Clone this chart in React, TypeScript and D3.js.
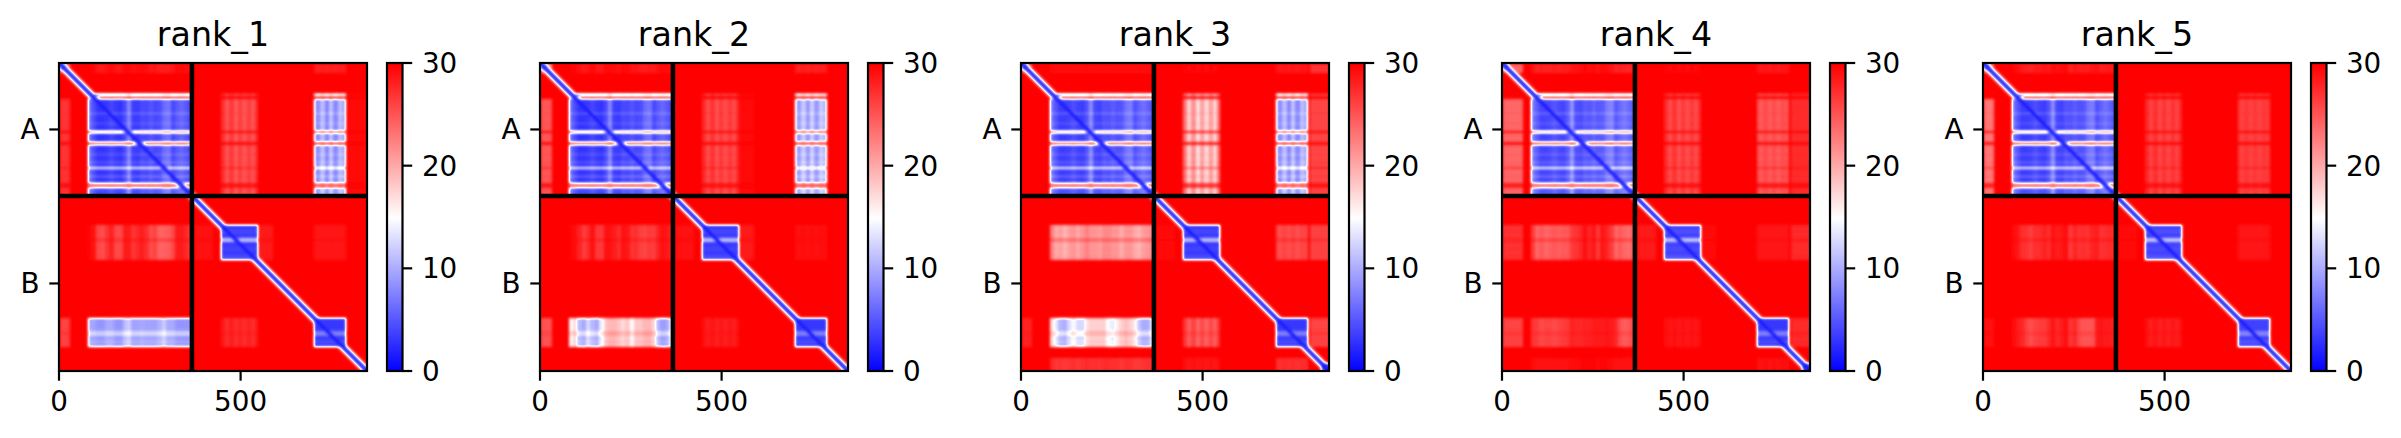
import React, { useMemo } from "react";
import * as d3 from "d3";

const RANKS = ["rank_1", "rank_2", "rank_3", "rank_4", "rank_5"];
const TOTAL = 848;
const CHAIN_NAMES = ["A", "B"];
const CHAIN_LENGTHS = [366, 482];
const X_TICKS = [0, 500];
const CBAR_TICKS = [0, 10, 20, 30];

// residue ranges of row and column groups
const ROW_GROUPS = [[2, 28], [82, 366], [446, 542], [703, 782], [813, 848]];
const COL_GROUPS = [[2, 30], [79, 366], [375, 425], [445, 549], [549, 590], [702, 790], [795, 848]];
const A0_COL_END = [30, 32, 30, 58, 30];

// PAE level per rank, rows a0,a1,b1,b2,tail, columns a0,a1,l1,b1,l2,b2,tail
const LEVELS_RANK1 = [[22, 27.5, 30, 30, 30, 28, 30], [27, 2.5, 30, 24.5, 30, 7, 29.5], [30, 22, 29, 2.5, 28.5, 28.5, 30], [26, 7, 30, 27, 30, 2.5, 30], [30, 30, 30, 30, 30, 30, 30]];
const LEVELS_RANK2 = [[20, 27, 30, 30, 30, 28, 30], [25, 2.5, 30, 25, 29.5, 8, 30], [30, 23, 29, 2.5, 28.5, 29, 30], [25, 8, 30, 28, 30, 2.5, 30], [30, 30, 30, 30, 30, 30, 30]];
const LEVELS_RANK3 = [[24, 29, 30, 29.5, 30, 28.5, 27], [30, 3, 30, 16, 30, 7, 26], [30, 17, 29.5, 2.5, 30, 25, 26], [28, 9, 30, 23.5, 30, 2.5, 26], [30, 26, 30, 28.5, 30, 27, 30]];
const LEVELS_RANK4 = [[24, 27, 30, 29.5, 30, 28.5, 30], [24, 3.5, 30, 25, 30, 24.5, 27.5], [27, 21, 28.5, 3, 29.5, 28.5, 27.5], [26, 22, 30, 28.5, 30, 2.5, 27.5], [30, 28.5, 30, 30, 30, 29, 30]];
const LEVELS_RANK5 = [[22, 26, 30, 30, 30, 30, 30], [23, 3, 30, 25.5, 30, 26, 30], [30, 23, 29.5, 3, 30, 28.5, 30], [29, 22, 30, 28, 30, 3, 30], [30, 30, 30, 30, 30, 30, 30]];
const LEVELS = [LEVELS_RANK1, LEVELS_RANK2, LEVELS_RANK3, LEVELS_RANK4, LEVELS_RANK5];

// row strips inside chain A: start, end, how far toward red
const A_ROW_STRIPS = [
  [82, 85, 0.75], [90, 99, 0.92], [137, 141, 0.16], [165, 168, 0.1], [187, 194, 0.9],
  [218, 226, 0.85], [250, 252, 0.12], [272, 275, 0.15], [285, 293, 0.45], [302, 304, 0.1],
  [310, 314, 0.2], [331, 343, 0.72], [352, 354, 0.14],
];
// 12-residue bins, columns 79..366
const A1_RIPPLE = [0.14, 0.07, 0.02, 0.02, 0.03, 0.06, 0.03, 0.02, 0.07, 0.2, 0.04, 0.03, 0.07, 0.06, 0.09, 0.06, 0.07, 0.14, 0.16, 0.06, 0.1, 0.13, 0.1, 0.06];
const B1_ROW_A1_RANK1 = [0.95, 0.85, 0.45, 0.4, 0.6, 0.75, 0.45, 0.45, 0.8, 0.8, 0.6, 0.7, 0.8, 0.65, 0.4, 0.5, 0.25, 0.25, 0.3, 0.45, 0.8, 0.8, 0.7, 0.6];
const B1_ROW_A1_RANK2 = [0.95, 0.9, 0.7, 0.45, 0.6, 0.85, 0.5, 0.5, 0.85, 0.85, 0.75, 0.6, 0.85, 0.8, 0.55, 0.6, 0.45, 0.4, 0.5, 0.45, 0.7, 0.85, 0.8, 0.7];
const B1_ROW_A1_RANK3 = [0.4, 0.2, 0.25, 0.15, 0.25, 0.3, 0.2, 0.3, 0.4, 0.3, 0.3, 0.25, 0.35, 0.35, 0.3, 0.3, 0.2, 0.3, 0.3, 0.2, 0.15, 0.25, 0.3, 0.35];
const B1_ROW_A1_RANK4 = [0.6, 0.3, 0.4, 0.3, 0.35, 0.4, 0.35, 0.4, 0.4, 0.6, 0.65, 0.75, 0.9, 0.75, 0.85, 0.6, 0.85, 0.75, 0.6, 0.3, 0.4, 0.3, 0.25, 0.4];
const B1_ROW_A1_RANK5 = [0.9, 0.8, 0.6, 0.55, 0.45, 0.6, 0.6, 0.7, 0.6, 0.85, 0.75, 0.8, 0.9, 0.5, 0.7, 0.55, 0.6, 0.55, 0.7, 0.75, 0.55, 0.6, 0.65, 0.6];
const B1_ROW_A1 = [B1_ROW_A1_RANK1, B1_ROW_A1_RANK2, B1_ROW_A1_RANK3, B1_ROW_A1_RANK4, B1_ROW_A1_RANK5];
const B2_ROW_A1_RANK1 = [0.1, 0.08, 0.05, 0.05, 0.1, 0.1, 0.05, 0.05, 0.15, 0.2, 0.08, 0.08, 0.1, 0.08, 0.08, 0.08, 0.12, 0.2, 0.1, 0.1, 0.05, 0.05, 0.05, 0.05];
const B2_ROW_A1_RANK2 = [0.3, 0.4, 0.1, 0.05, 0.2, 0.1, 0.05, 0.25, 0.45, 0.5, 0.5, 0.45, 0.4, 0.45, 0.3, 0.45, 0.45, 0.5, 0.5, 0.4, 0.1, 0.02, 0.05, 0.25];
const B2_ROW_A1_RANK3 = [0.35, 0.2, 0.05, 0.02, 0.15, 0.25, 0.15, 0.15, 0.35, 0.4, 0.4, 0.4, 0.4, 0.25, 0.2, 0.3, 0.4, 0.45, 0.4, 0.3, 0.1, 0.02, 0.02, 0.2];
const B2_ROW_A1_RANK4 = [0.6, 0.55, 0.45, 0.5, 0.5, 0.45, 0.5, 0.55, 0.6, 0.75, 0.7, 0.7, 0.75, 0.75, 0.8, 0.8, 0.8, 0.85, 0.8, 0.7, 0.4, 0.3, 0.35, 0.45];
const B2_ROW_A1_RANK5 = [0.9, 0.8, 0.7, 0.5, 0.4, 0.5, 0.55, 0.55, 0.7, 0.85, 0.7, 0.8, 0.9, 0.6, 0.7, 0.45, 0.35, 0.35, 0.35, 0.8, 0.85, 0.8, 0.8, 0.75];
const B2_ROW_A1 = [B2_ROW_A1_RANK1, B2_ROW_A1_RANK2, B2_ROW_A1_RANK3, B2_ROW_A1_RANK4, B2_ROW_A1_RANK5];
const B1_COL_STRIPES = [0.5, 0.1, 0.4, 0.05, 0.35, 0.1, 0.35, 0.1, 0.5];
const B2_COL_STRIPES = [0.18, 0.04, 0.18, 0.03, 0.2, 0.04, 0.18, 0.12];
const B1_ROW_RIPPLE = [0.03, 0.06, 0.03, 0.32, 0.03, 0.05, 0.03, 0.07, 0.03];
const B2_ROW_RIPPLE = [0.03, 0.03, 0.03, 0.18, 0.03, 0.07, 0.03];
const TAIL_START = [848, 848, 825, 825, 848];

const PANEL_LEFT = [59, 540, 1021, 1502, 1983];
const TOP = 63;
const SIZE = 308;

const color = d3.scaleLinear<string>().domain([0, 15, 30]).range(["#0000ff", "#ffffff", "#ff0000"]).clamp(true);
const pos = d3.scaleLinear().domain([0, TOTAL]).range([0, SIZE]);
const cbarY = d3.scaleLinear().domain([0, 30]).range([SIZE, 0]);

const groupOf = (groups: number[][], v: number) => groups.findIndex(([a, b]) => v >= a && v < b);
const binOf = (arr: number[], start: number, width: number, v: number) =>
  arr[Math.min(arr.length - 1, Math.max(0, Math.floor((v - start) / width)))];

function buildPaths(rank: number) {
  const n = SIZE;
  const colGroups = COL_GROUPS.map((g, k) => (k === 0 ? [g[0], A0_COL_END[rank]] : g));
  const res = d3.range(n).map((p) => pos.invert(p + 0.5));
  const rowG = res.map((i) => groupOf(ROW_GROUPS, i));
  const colG = res.map((j) => groupOf(colGroups, j));
  const rowF = res.map((i, p) => {
    if (rowG[p] === 1) {
      const s = A_ROW_STRIPS.find(([a, b]) => i >= a && i < b);
      return s ? s[2] : 0;
    }
    if (rowG[p] === 2) return binOf(B1_ROW_RIPPLE, 446, 12, i);
    if (rowG[p] === 3) return binOf(B2_ROW_RIPPLE, 703, 12, i);
    return 0;
  });
  const data = new Float64Array(n * n);
  for (let y = 0; y < n; y++) {
    const i = res[y];
    const rg = rowG[y];
    for (let x = 0; x < n; x++) {
      const j = res[x];
      const cg = colG[x];
      let v = 30;
      if (rg >= 0 && cg >= 0) {
        const lvl = LEVELS[rank][rg][cg];
        let c = 0;
        if (cg === 1) {
          if (rg === 1) c = binOf(A1_RIPPLE, 79, 12, j);
          else if (rg === 3) c = binOf(B2_ROW_A1[rank], 79, 12, j);
          else c = binOf(B1_ROW_A1[rank], 79, 12, j);
        } else if (cg === 3 && rg !== 2) c = binOf(B1_COL_STRIPES, 445, 12, j);
        else if (cg === 5 && rg !== 3) c = binOf(B2_COL_STRIPES, 695, 12, j);
        v = 30 - (30 - lvl) * (1 - rowF[y]) * (1 - c);
      }
      if (i >= 82 && i < 99 && j < 96) v = 30;
      if ((i >= 4 && i < 26 && j >= 14 && j < 20) || (i >= 14 && i < 20 && j >= 4 && j < 26)) v = Math.min(v, 5);
      const d = Math.abs(i - j);
      const tail = i > TAIL_START[rank] && j > TAIL_START[rank];
      v = Math.min(v, Math.max(1, (tail ? 0.6 : 2.1) * (d - 4)));
      data[y * n + x] = v;
    }
  }
  d3.blur2({ data, width: n, height: n }, 0.7, 0.7);
  const paths = new Map<number, d3.Path>();
  for (let y = 0; y < n; y++) {
    let x = 0;
    while (x < n) {
      const q = Math.round(data[y * n + x] * 4);
      let e = x + 1;
      while (e < n && Math.round(data[y * n + e] * 4) === q) e++;
      if (q < 120) {
        if (!paths.has(q)) paths.set(q, d3.path());
        paths.get(q)!.rect(x, y, e - x, 1);
      }
      x = e;
    }
  }
  return Array.from(paths, ([q, p]) => ({ fill: color(q / 4), d: p.toString() }));
}

const FONT = "'DejaVu Sans', sans-serif";
const STROKE = 2.2;

function Panel({ rank }: { rank: number }) {
  const cells = useMemo(() => buildPaths(rank), [rank]);
  const left = PANEL_LEFT[rank];
  const splitPx = pos(CHAIN_LENGTHS[0]);
  const mids = [CHAIN_LENGTHS[0] / 2, CHAIN_LENGTHS[0] + CHAIN_LENGTHS[1] / 2];
  const barX = SIZE + 20;
  const barW = 15.5;
  const bins = d3.range(0, 30, 30 / 154);
  return (
    <g transform={`translate(${left},${TOP})`} fontFamily={FONT} fill="#000">
      <rect x={0} y={0} width={SIZE} height={SIZE} fill={color(30)} />
      <g shapeRendering="crispEdges">
        {cells.map((c) => (
          <path key={c.fill} d={c.d} fill={c.fill} />
        ))}
      </g>
      <line x1={splitPx} x2={splitPx} y1={0} y2={SIZE} stroke="#000" strokeWidth={4.6} />
      <line x1={0} x2={SIZE} y1={splitPx} y2={splitPx} stroke="#000" strokeWidth={4.6} />
      <rect x={0} y={0} width={SIZE} height={SIZE} fill="none" stroke="#000" strokeWidth={STROKE} />
      {X_TICKS.map((t) => (
        <g key={t} transform={`translate(${pos(t)},${SIZE})`}>
          <line y2={9.7} stroke="#000" strokeWidth={STROKE} />
          <text y={40} textAnchor="middle" fontSize={27.8}>{t}</text>
        </g>
      ))}
      {CHAIN_NAMES.map((name, k) => (
        <g key={name} transform={`translate(0,${pos(mids[k])})`}>
          <line x2={-9.7} stroke="#000" strokeWidth={STROKE} />
          <text x={-19.4} y={10} textAnchor="end" fontSize={27.8}>{name}</text>
        </g>
      ))}
      <text x={SIZE / 2} y={-17.5} textAnchor="middle" fontSize={33.3}>{RANKS[rank]}</text>
      <g transform={`translate(${barX},0)`}>
        <g shapeRendering="crispEdges">
          {bins.map((b) => (
            <rect key={b} x={0} y={cbarY(b + 30 / 154) - 0.5} width={barW} height={cbarY(b) - cbarY(b + 30 / 154) + 1} fill={color(b + 15 / 154)} />
          ))}
        </g>
        <rect x={0} y={0} width={barW} height={SIZE} fill="none" stroke="#000" strokeWidth={STROKE} />
        {CBAR_TICKS.map((t) => (
          <g key={t} transform={`translate(${barW},${cbarY(t)})`}>
            <line x2={9.7} stroke="#000" strokeWidth={STROKE} />
            <text x={19.4} y={10} fontSize={27.8}>{t}</text>
          </g>
        ))}
      </g>
    </g>
  );
}

export default function App() {
  return (
    <svg
      width={2401}
      height={438}
      viewBox="0 0 2401 438"
      style={{ position: "absolute", left: 0, top: 0, display: "block", background: "#fff" }}
    >
      {RANKS.map((_, k) => (
        <Panel key={k} rank={k} />
      ))}
    </svg>
  );
}
